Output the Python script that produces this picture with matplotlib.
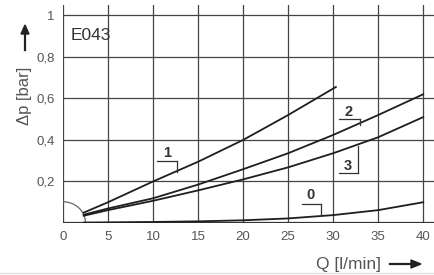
import numpy as np
import matplotlib.pyplot as plt
from matplotlib.patches import Arc

plt.rcParams['font.family'] = ['Liberation Sans', 'DejaVu Sans']

# flow Q [l/min] and pressure drop dp [bar] for each curve
q1 = [2.3, 5, 10, 15, 20, 25, 30.3]
dp1 = [0.05, 0.1, 0.2, 0.295, 0.4, 0.52, 0.655]

q_all = [2.3, 5, 10, 15, 20, 25, 30, 35, 40]
dp2 = [0.04, 0.07, 0.119, 0.185, 0.259, 0.336, 0.424, 0.52, 0.62]
dp3 = [0.035, 0.062, 0.107, 0.157, 0.21, 0.268, 0.336, 0.413, 0.51]
dp0 = [0.002, 0.003, 0.005, 0.008, 0.013, 0.022, 0.038, 0.062, 0.1]

xticks = [0, 5, 10, 15, 20, 25, 30, 35, 40]
yticks = [0.2, 0.4, 0.6, 0.8, 1.0]
ytick_labels = ['0,2', '0,4', '0,6', '0,8', '1']

# curve labels: text, text position, underline x range, underline y, leader end y
labels = [
    ('1', 11.6, 0.335, 10.4, 12.7, 0.30, 0.245),
    ('2', 31.7, 0.535, 30.6, 33.0, 0.50, 0.47),
    ('3', 31.6, 0.275, 30.6, 32.8, 0.243, 0.37),
    ('0', 27.5, 0.135, 26.5, 28.7, 0.092, 0.04),
]

grid_c = '#444444'
line_c = '#1e1e1e'
text_c = '#555555'

fig = plt.figure(figsize=(4.34, 2.75), dpi=100)
ax = fig.add_axes([63 / 434, 52 / 275, 371 / 434, 218 / 275])
ax.set_xlim(0, 41.2)
ax.set_ylim(0, 1.05)

for s in ax.spines.values():
    s.set_visible(False)
ax.tick_params(length=0, labelsize=9.5, colors=text_c, pad=6)
ax.set_xticks(xticks)
ax.set_xticklabels([str(t) for t in xticks])
ax.set_yticks(yticks)
ax.set_yticklabels(ytick_labels)

for t in xticks:
    ax.axvline(t, color=grid_c, lw=0.9, zorder=1)
for t in yticks:
    ax.axhline(t, color=grid_c, lw=0.9, zorder=1)
ax.axhline(0, color='#333333', lw=1.6, zorder=1)

ax.plot(q1, dp1, color=line_c, lw=1.3, zorder=3)
ax.plot(q_all, dp2, color=line_c, lw=1.3, zorder=3)
ax.plot(q_all, dp3, color=line_c, lw=1.3, zorder=3)
ax.plot(q_all, dp0, color=line_c, lw=1.3, zorder=3)

ax.add_patch(Arc((0, 0), 5.0, 0.205, theta1=0, theta2=90,
                 color='#666666', lw=0.9, zorder=2))

for txt, tx, ty, ux0, ux1, uy, ey in labels:
    ax.text(tx, ty, txt, fontsize=10.5, fontweight='bold', color='#333333',
            ha='center', va='center', zorder=4)
    ax.plot([ux0, ux1], [uy, uy], color='#333333', lw=0.9, zorder=4)
    ax.plot([ux1, ux1], [uy, ey], color='#333333', lw=0.9, zorder=4)

ax.text(0.9, 0.905, 'E043', fontsize=12.5, color='#333333', va='center', ha='left')

fig.text(25 / 434, 1 - 96 / 275, 'Δp [bar]', rotation=90, fontsize=12,
         color=text_c, ha='center', va='center')
fig.add_artist(plt.Line2D([25 / 434, 25 / 434], [1 - 50 / 275, 1 - 32 / 275],
                          color='#222222', lw=1.6))
fig.patches.append(plt.Polygon([[21 / 434, 1 - 34 / 275], [29 / 434, 1 - 34 / 275],
                                [25 / 434, 1 - 25 / 275]], closed=True,
                               color='#222222', transform=fig.transFigure))

fig.text(348 / 434, 1 - 264 / 275, 'Q [l/min]', fontsize=12.5, color=text_c,
         ha='center', va='center')
fig.add_artist(plt.Line2D([390 / 434, 413 / 434], [1 - 264 / 275, 1 - 264 / 275],
                          color='#222222', lw=1.6))
fig.patches.append(plt.Polygon([[411 / 434, 1 - 260 / 275], [411 / 434, 1 - 268 / 275],
                                [421 / 434, 1 - 264 / 275]], closed=True,
                               color='#222222', transform=fig.transFigure))

fig.add_artist(plt.Line2D([0, 1], [1 - 273 / 275, 1 - 273 / 275],
                          color='#dddddd', lw=0.8))

fig.savefig('out.png', dpi=100)
